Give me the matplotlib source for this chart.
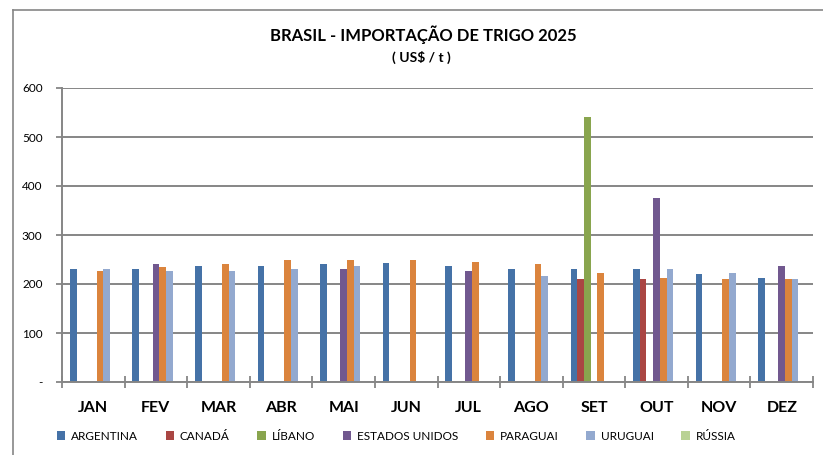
import numpy as np
import matplotlib
matplotlib.use("Agg")
import matplotlib.pyplot as plt
from matplotlib.lines import Line2D

plt.rcParams['font.family'] = ['Lato', 'DejaVu Sans']

months = ["JAN", "FEV", "MAR", "ABR", "MAI", "JUN", "JUL", "AGO", "SET", "OUT", "NOV", "DEZ"]
nan = np.nan
argentina      = [230, 230, 237, 237, 240, 243, 237, 230, 230, 230, 220, 213]
canada         = [nan, nan, nan, nan, nan, nan, nan, nan, 210, 210, nan, nan]
libano         = [nan, nan, nan, nan, nan, nan, nan, nan, 541, nan, nan, nan]
estados_unidos = [nan, 240, nan, nan, 230, nan, 227, nan, nan, 375, nan, 237]
paraguai       = [227, 234, 240, 250, 250, 250, 244, 240, 223, 213, 210, 210]
uruguai        = [230, 227, 227, 230, 237, nan, nan, 216, nan, 230, 223, 210]
russia         = [nan] * 12

series_names = ["ARGENTINA", "CANADÁ", "LÍBANO", "ESTADOS UNIDOS", "PARAGUAI", "URUGUAI", "RÚSSIA"]
series_vals = [argentina, canada, libano, estados_unidos, paraguai, uruguai, russia]
colors = ["#4572A7", "#AA4643", "#89A54E", "#71588F", "#DB843D", "#93A9CF", "#B9D295"]

yticks = [0, 100, 200, 300, 400, 500, 600]
ytick_labels = ["-", "100", "200", "300", "400", "500", "600"]

W, H = 823, 455
fig = plt.figure(figsize=(W / 100, H / 100), dpi=100)
ax = fig.add_axes([62 / W, 1 - 382 / H, (813 - 62) / W, (382 - 88) / H])

x = np.arange(len(months))
bw = 0.107
n = len(series_names)
for i, (name, vals, c) in enumerate(zip(series_names, series_vals, colors)):
    offs = (i - (n - 1) / 2) * bw
    ax.bar(x + offs, vals, width=bw, color=c, label=name, zorder=3,
           edgecolor="none")

ax.set_xlim(-0.5, len(months) - 0.5)
ax.set_ylim(0, 600)
ax.set_yticks(yticks)
ax.set_yticklabels(ytick_labels, fontsize=8.5)
ax.set_xticks(x)
ax.set_xticklabels(months, fontsize=11.5, fontweight="bold")
ax.set_xticks(np.arange(-0.5, len(months)), minor=True)
ax.tick_params(axis="x", which="major", length=0, pad=14)
ax.tick_params(axis="x", which="minor", length=9, direction="inout", color="#868686", width=1.3)
ax.tick_params(axis="y", length=4, direction="out", color="#868686", width=1.3, pad=10)

ax.grid(axis="y", color="#868686", linewidth=1.4, zorder=0)
ax.set_axisbelow(True)
for s in ["top", "right"]:
    ax.spines[s].set_visible(False)
for s in ["left", "bottom"]:
    ax.spines[s].set_color("#868686")
    ax.spines[s].set_linewidth(1.4)
ax.spines["bottom"].set_zorder(4)

# chart frame (left and top edges)
fig.add_artist(Line2D([13 / W, 13 / W], [0, 1 - 10 / H], transform=fig.transFigure,
                      color="#868686", linewidth=1.2))
fig.add_artist(Line2D([13 / W, 1], [1 - 10 / H, 1 - 10 / H], transform=fig.transFigure,
                      color="#868686", linewidth=1.2))

fig.text(423 / W, 1 - 35 / H, "BRASIL - IMPORTAÇÃO DE TRIGO 2025", ha="center", va="center",
         fontsize=12, fontweight="bold")
fig.text(421 / W, 1 - 57 / H, "( US$ / t )", ha="center", va="center",
         fontsize=10, fontweight="bold")

leg = fig.legend(loc="center left", bbox_to_anchor=(52 / W, 1 - 436 / H), ncol=7,
                 frameon=False, fontsize=8.5, handlelength=0.7, handleheight=0.7,
                 handletextpad=0.5, columnspacing=2.35, borderaxespad=0)

fig.savefig("out.png", dpi=100)
